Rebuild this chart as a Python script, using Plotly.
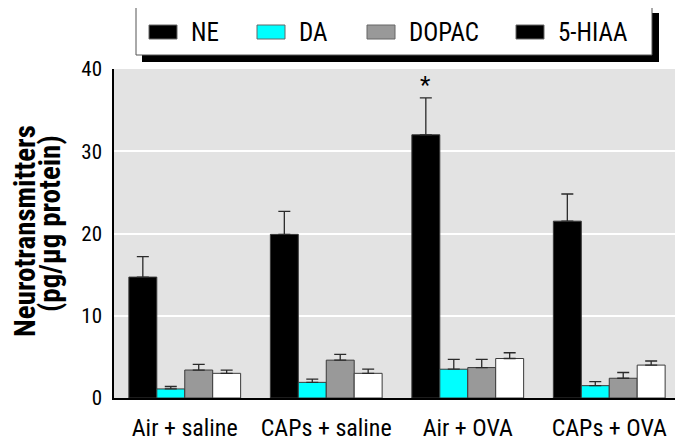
import plotly.graph_objects as go

categories = ["Air + saline", "CAPs + saline", "Air + OVA", "CAPs + OVA"]
series_names = ["NE", "DA", "DOPAC", "5-HIAA"]
ne = [14.7, 19.9, 32.0, 21.5]
ne_err = [2.5, 2.8, 4.5, 3.3]
da = [1.1, 1.9, 3.5, 1.5]
da_err = [0.3, 0.4, 1.2, 0.5]
dopac = [3.4, 4.6, 3.7, 2.4]
dopac_err = [0.7, 0.7, 1.0, 0.7]
hiaa = [3.0, 3.0, 4.8, 4.0]
hiaa_err = [0.4, 0.5, 0.7, 0.5]
bar_colors = ["#000000", "#00ffff", "#999999", "#ffffff"]
legend_colors = ["#000000", "#00ffff", "#999999", "#000000"]
y_ticks = [0, 10, 20, 30, 40]
y_title_lines = ["Neurotransmitters", "(pg/μg protein)"]
star_value = 38.3

FONT = "Roboto Condensed, Liberation Sans Narrow, DejaVu Sans Condensed, sans-serif"

# the page body adds an 8px margin, so the figure is drawn offset by 8px
OFF = 8
W, H = 683 - OFF, 441 - OFF
# plot area in screen pixels: x 114..680, y 69..398
L, T = 114 - OFF, 69 - OFF
R = W - (680 - OFF)
B = H - (398 - OFF)
PW, PH = W - L - R, H - T - B
BARGAP = 0.21

def px(x):
    """screen x -> paper x"""
    return (x - OFF - L) / PW

def py(y):
    """screen y -> paper y"""
    return (H - B - (y - OFF)) / PH

fig = go.Figure()
values = [ne, da, dopac, hiaa]
errors = [ne_err, da_err, dopac_err, hiaa_err]
for name, vals, errs, col in zip(series_names, values, errors, bar_colors):
    fig.add_trace(go.Bar(
        x=categories, y=vals, name=name,
        marker=dict(color=col, line=dict(color="#3a3a3a", width=1)),
        error_y=dict(type="data", array=errs, symmetric=False, arrayminus=[0] * len(errs),
                     color="#2a2a2a", thickness=1.3, width=6),
        showlegend=False,
    ))

# asterisk above NE bar of "Air + OVA"
n = len(series_names)
ne_offset_px = -(1 - BARGAP) * (n - 1) / (2 * n) * PW / len(categories)
fig.add_annotation(x=categories[2], y=star_value, text="*", showarrow=False,
                   xshift=ne_offset_px, yshift=-2, font=dict(family=FONT, size=24, color="black"))

# y-axis title (two rotated lines)
for text, cx, cy in zip(y_title_lines, [25, 50], [231, 224]):
    fig.add_annotation(xref="paper", yref="paper", x=px(cx), y=py(cy), text=f"<b>{text}</b>",
                       textangle=-90, showarrow=False, xanchor="center", yanchor="middle",
                       font=dict(family=FONT, size=29, color="black"))

# manual legend box with drop shadow
shapes = [
    dict(type="rect", xref="paper", yref="paper", x0=px(142), x1=px(659), y0=py(62), y1=py(13),
         fillcolor="black", line=dict(width=0), layer="above"),
    dict(type="rect", xref="paper", yref="paper", x0=px(136), x1=px(652), y0=py(55), y1=py(7),
         fillcolor="white", line=dict(color="#555555", width=1), layer="above"),
]
sw_x = [149, 257, 367, 516]
for sx, col, name in zip(sw_x, legend_colors, series_names):
    shapes.append(dict(type="rect", xref="paper", yref="paper", x0=px(sx), x1=px(sx + 28),
                       y0=py(39), y1=py(25), fillcolor=col,
                       line=dict(color="#666666", width=1), layer="above"))
    fig.add_annotation(xref="paper", yref="paper", x=px(sx + 40), y=py(32), text=name,
                       showarrow=False, xanchor="left", yanchor="middle",
                       font=dict(family=FONT, size=25, color="black"))

fig.update_layout(
    width=W, height=H,
    margin=dict(l=L, r=R, t=T, b=B, pad=0),
    barmode="group", bargap=BARGAP, bargroupgap=0,
    paper_bgcolor="white", plot_bgcolor="#e3e3e3",
    shapes=shapes,
    font=dict(family=FONT, color="black"),
    xaxis=dict(showgrid=False, showline=True, linecolor="black", linewidth=2, automargin=False,
               ticks="", ticklabelstandoff=7, tickfont=dict(family=FONT, size=24, color="black")),
    yaxis=dict(range=[0, 40], tickvals=y_ticks, showgrid=True, gridcolor="white", gridwidth=2,
               showline=True, linecolor="black", linewidth=1.5, ticks="", zeroline=False,
               automargin=False, ticklabelstandoff=6,
               tickfont=dict(family=FONT, size=21, color="black")),
)

fig.write_html("out.html")
